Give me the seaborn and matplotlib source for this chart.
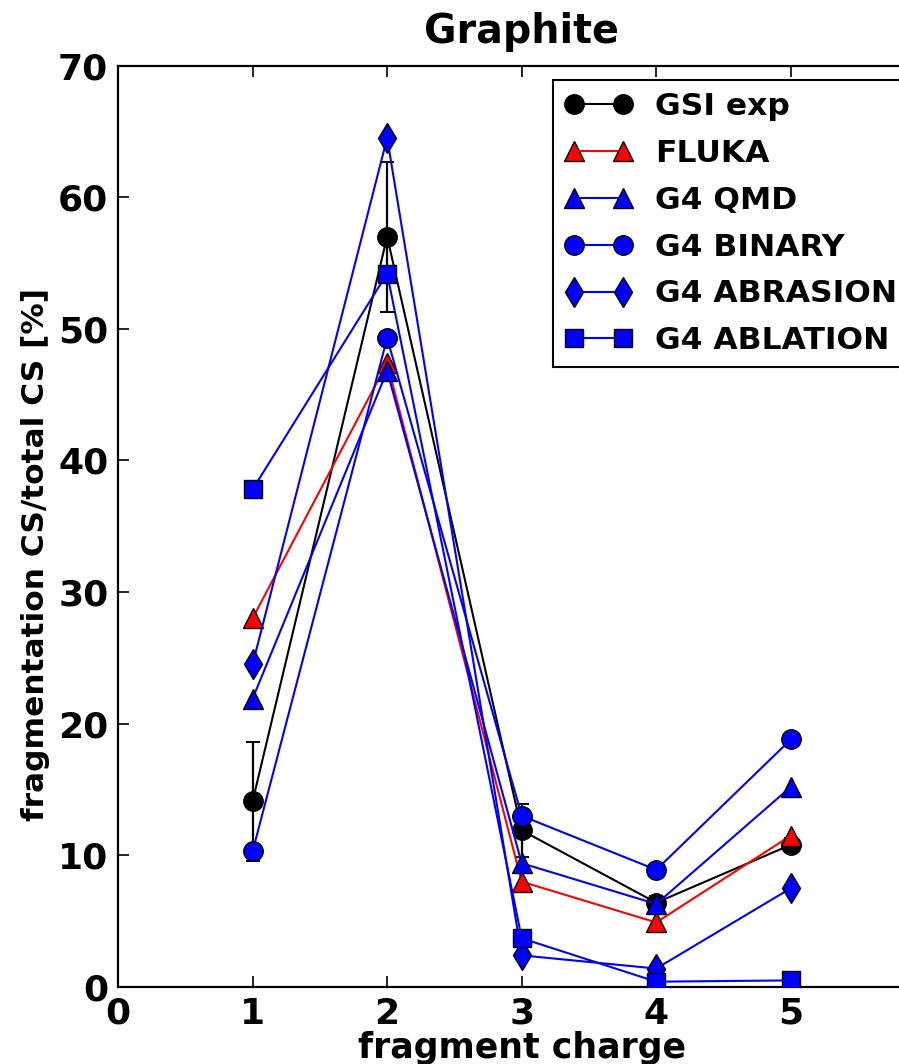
import matplotlib
matplotlib.use("Agg")
import matplotlib.pyplot as plt
import seaborn as sns
import numpy as np
import pandas as pd

charge = [1, 2, 3, 4, 5]
gsi_exp = [14.1, 57.0, 11.9, 6.4, 10.8]
gsi_err = [4.5, 5.7, 2.0, 0.5, 0.5]
fluka = [28.0, 47.4, 8.0, 4.9, 11.5]
g4_qmd = [21.9, 46.8, 9.4, 6.3, 15.2]
g4_binary = [10.3, 49.3, 13.0, 8.9, 18.8]
g4_abrasion = [24.5, 64.5, 2.4, 1.4, 7.5]
g4_ablation = [37.8, 54.2, 3.7, 0.4, 0.5]

sns.set_style("ticks")
plt.rcParams['font.family'] = ['DejaVu Sans']
plt.rcParams['font.weight'] = 'bold'
for k in ['text.color', 'axes.labelcolor', 'xtick.color', 'ytick.color', 'axes.edgecolor']:
    plt.rcParams[k] = 'black'

fig = plt.figure(figsize=(8.99, 10.64), dpi=100)
ax = fig.add_axes([0.1313, 0.0724, 0.898, 0.866])

series = [
    ("GSI exp", gsi_exp, "black", "o", "black", 14),
    ("FLUKA", fluka, "red", "^", "red", 14),
    ("G4 QMD", g4_qmd, "blue", "^", "blue", 14),
    ("G4 BINARY", g4_binary, "blue", "o", "blue", 14),
    ("G4 ABRASION", g4_abrasion, "blue", "d", "blue", 15),
    ("G4 ABLATION", g4_ablation, "blue", "s", "blue", 13),
]

ax.errorbar(charge, gsi_exp, yerr=gsi_err, fmt='none', ecolor='black',
            elinewidth=1.6, capsize=5, capthick=1.4, zorder=2)

for name, vals, lc, mk, fc, ms in series:
    df = pd.DataFrame({"x": charge, "y": vals})
    sns.lineplot(data=df, x="x", y="y", ax=ax, color=lc, marker=mk,
                 markersize=ms, markerfacecolor=fc, markeredgecolor="black",
                 markeredgewidth=1.0, linewidth=1.5, label=name, zorder=3)

ax.set_xlim(0, 6)
ax.set_ylim(0, 70)
ax.set_xticks([0, 1, 2, 3, 4, 5])
ax.set_yticks([0, 10, 20, 30, 40, 50, 60, 70])
ax.tick_params(direction='in', length=8, width=1.2, top=True, right=True,
               labelsize=26, pad=7, colors='black')
for lab in ax.get_xticklabels() + ax.get_yticklabels():
    lab.set_fontweight('bold')
for s in ax.spines.values():
    s.set_linewidth(1.6)
    s.set_color('black')

ax.set_xlabel("fragment charge", fontsize=25, fontweight='bold', labelpad=0)
ax.set_ylabel("fragmentation CS/total CS [%]", fontsize=22.5, fontweight='bold')
ax.yaxis.set_label_coords(-0.084, 0.469)
ax.set_title("Graphite", fontsize=28.5, fontweight='bold', pad=16)

leg = ax.legend(loc='upper left', bbox_to_anchor=(553/899, 1 - 80/1064),
                bbox_transform=fig.transFigure, borderaxespad=0, numpoints=2,
                fancybox=False, framealpha=1, edgecolor='black',
                handlelength=2.15, labelspacing=0.57, borderpad=0.38,
                handletextpad=0.72, prop={'weight': 'bold', 'size': 22.6})
leg.get_frame().set_linewidth(1.5)

fig.savefig("out.png", dpi=100)
